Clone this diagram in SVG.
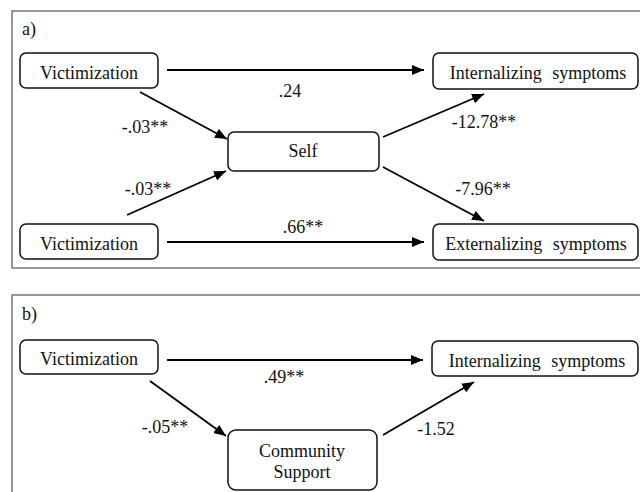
<svg xmlns="http://www.w3.org/2000/svg" width="640" height="492" viewBox="0 0 640 492">
<defs>
<marker id="ah" markerUnits="userSpaceOnUse" markerWidth="13" markerHeight="10" refX="12" refY="5" orient="auto">
<path d="M0,0 L12,5 L0,10 z" fill="#000"/>
</marker>
<style>
.frame{fill:none;stroke:#555;stroke-width:1.2}
.box{fill:#fff;stroke:#111;stroke-width:1.5}
.t{font-family:'Liberation Serif',serif;font-size:18px;fill:#111;text-anchor:middle}
.p{font-family:'Liberation Serif',serif;font-size:18px;fill:#111}
.c{stroke:#000;stroke-width:1.8;fill:none;marker-end:url(#ah)}
.w{word-spacing:6px}
</style>
</defs>
<rect width="640" height="492" fill="#fff"/>
<rect class="frame" x="12" y="11" width="640" height="257"/>
<rect class="frame" x="12" y="295" width="640" height="220"/>
<text class="p" x="22" y="35">a)</text>
<text class="p" x="22" y="320">b)</text>

<g id="connectors">
<line class="c" x1="167" y1="70" x2="424" y2="70"/>
<line class="c" x1="140" y1="92" x2="227" y2="139"/>
<line class="c" x1="127" y1="215" x2="226" y2="171"/>
<line class="c" x1="383" y1="137" x2="484" y2="94"/>
<line class="c" x1="383" y1="167" x2="484" y2="221"/>
<line class="c" x1="167" y1="242" x2="424" y2="242"/>
<line class="c" x1="167" y1="360" x2="423" y2="360"/>
<line class="c" x1="150" y1="381" x2="226" y2="436"/>
<line class="c" x1="383" y1="435" x2="474" y2="382"/>
<text class="t" x="290" y="97">.24</text>
<text class="t" x="145" y="133">-.03**</text>
<text class="t" x="484" y="128">-12.78**</text>
<text class="t" x="148" y="195">-.03**</text>
<text class="t" x="483" y="195">-7.96**</text>
<text class="t" x="303" y="233">.66**</text>
<text class="t" x="284" y="383">.49**</text>
<text class="t" x="165" y="433">-.05**</text>
<text class="t" x="436" y="435">-1.52</text>
</g>

<g id="a-vic1">
<rect class="box" x="20" y="53" width="138" height="35" rx="6"/>
<text class="t" x="89" y="79">Victimization</text>
</g>
<g id="a-int">
<rect class="box" x="433" y="53" width="205" height="36" rx="6"/>
<text class="t w" x="538" y="79">Internalizing symptoms</text>
</g>
<g id="a-self">
<rect class="box" x="228" y="132" width="151" height="39" rx="6"/>
<text class="t" x="303" y="157">Self</text>
</g>
<g id="a-vic2">
<rect class="box" x="20" y="224" width="138" height="35" rx="6"/>
<text class="t" x="89" y="250">Victimization</text>
</g>
<g id="a-ext">
<rect class="box" x="433" y="224" width="205" height="36" rx="6"/>
<text class="t w" x="536" y="250">Externalizing symptoms</text>
</g>

<g id="b-vic">
<rect class="box" x="20" y="340" width="138" height="34" rx="6"/>
<text class="t" x="89" y="365">Victimization</text>
</g>
<g id="b-int">
<rect class="box" x="432" y="341" width="206" height="35" rx="6"/>
<text class="t w" x="537" y="367">Internalizing symptoms</text>
</g>
<g id="b-com">
<rect class="box" x="228" y="430" width="149" height="60" rx="8"/>
<text class="t" x="302" y="457">Community</text>
<text class="t" x="302" y="478">Support</text>
</g>
</svg>
